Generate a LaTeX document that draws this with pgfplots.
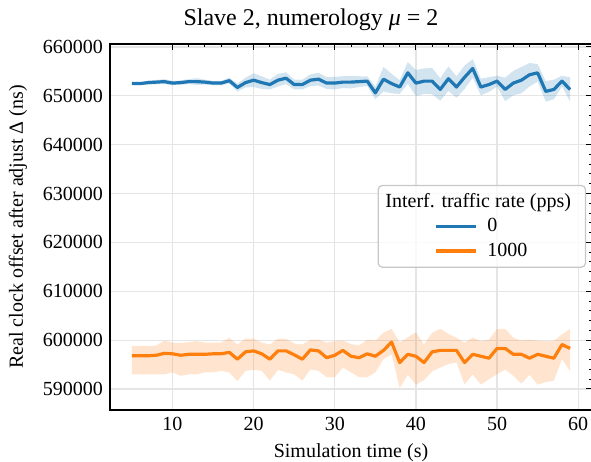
\documentclass[border=0pt]{standalone}
\usepackage{fontspec}
\setmainfont{Liberation Serif}
\usepackage{pgfplots}
\usepackage{pgfplotstable}
\pgfplotsset{compat=1.18}
\usepgfplotslibrary{fillbetween}
\definecolor{tabblue}{HTML}{1F77B4}
\definecolor{taborange}{HTML}{FF7F0E}

% rate 0 pps: mean and band edges
\pgfplotstableread{
t mean hi lo
5 652500 652700 652300
6 652500 652750 652250
7 652700 653100 652300
8 652800 653250 652350
9 652900 653400 652400
10 652600 653050 652150
11 652700 653150 652250
12 652900 653400 652400
13 652900 653600 652200
14 652800 653300 652300
15 652600 653050 652150
16 652600 653050 652150
17 653100 653700 652500
18 651700 652500 650900
19 652700 653700 651700
20 653200 654600 651800
21 652700 654000 651400
22 652300 653300 651300
23 653200 654500 651900
24 653600 654800 652400
25 652300 653300 651300
26 652300 653300 651300
27 653200 654400 652000
28 653400 654700 652100
29 652600 653800 651400
30 652600 653900 651300
31 652800 654000 651600
32 652800 654100 651500
33 652900 654000 651800
34 653000 654000 652000
35 650600 651900 649300
36 653400 655900 650900
37 652500 654500 650500
38 651800 653200 650400
39 654700 656900 652500
40 652600 655300 649900
41 653000 655600 650400
42 653000 655700 650300
43 651300 653600 649000
44 653500 656000 651000
45 651800 654000 649600
46 653800 656200 651400
47 655600 657500 653700
48 651800 653500 650100
49 652300 653800 650800
50 653000 654100 651900
51 651300 653700 648900
52 652600 655100 650100
53 653200 655900 650500
54 654300 656700 651900
55 654700 656500 652900
56 650900 653000 648800
57 651300 653300 649300
58 653000 654100 651900
59 651300 653800 648800
}\rateA

% rate 1000 pps
\pgfplotstableread{
t mean hi lo
5 596800 598800 593000
6 596800 598800 593000
7 596800 598800 593000
8 596900 598900 593000
9 597300 599900 593000
10 597200 599500 593400
11 596900 599400 592700
12 597100 599600 593000
13 597100 599800 593000
14 597100 599500 593400
15 597200 599500 593400
16 597200 599500 593700
17 597500 600500 593400
18 596100 599100 591600
19 597600 600300 593700
20 597800 600300 593900
21 597200 599500 593700
22 596100 599100 591700
23 597800 600300 593900
24 597800 600300 593400
25 597000 599300 593000
26 596100 599100 591700
27 598000 600100 594000
28 597800 600100 593700
29 596400 599500 592400
30 596900 599800 592400
31 597900 599900 594400
32 596700 599200 593400
33 596400 598900 592400
34 597200 600100 592400
35 596700 599900 593400
36 597900 601500 596100
37 599600 602300 597100
38 595400 599500 590200
39 597100 600600 592900
40 596700 601600 590900
41 595400 599100 591800
42 597600 601500 593600
43 597900 602300 594400
44 597900 601300 595100
45 597900 600500 595400
46 595400 599500 590900
47 597100 600500 593000
48 596700 599800 590900
49 596300 600100 592000
50 598300 602300 593000
51 598300 602300 594000
52 597100 600500 592700
53 597100 599900 591100
54 596300 600100 592900
55 597100 599900 590900
56 596700 599800 591400
57 596300 599800 591700
58 599100 601200 596100
59 598300 602300 593600
}\rateB

\begin{document}
\begin{tikzpicture}
\begin{axis}[
  scale only axis, width=241pt, height=183pt,
  xmin=2.3, xmax=61.7, ymin=585700, ymax=660600,
  xtick={10,20,...,60}, minor x tick num=4,
  ytick={590000,600000,...,660000}, minor y tick num=4,
  scaled y ticks=false,
  xtick pos=right, xticklabel pos=left,
  ytick pos=right, yticklabel pos=left,
  tick align=inside,
  major tick length=3pt, minor tick length=1.6pt,
  every tick/.append style={black, line width=0.5pt},
  grid=major, major grid style={color=black!10, line width=0.6pt},
  axis line style={line width=0.7pt},
  /pgf/number format/fixed,
  /pgf/number format/set thousands separator={},
  /pgf/number format/assume math mode=true,
  tick label style={font=\fontsize{10}{12}\selectfont},
  label style={font=\fontsize{10}{12}\selectfont},
  xlabel={Simulation time (s)},
  xlabel style={at={(axis description cs:0.5,0)}, anchor=base, yshift=-23.5pt},
  ylabel={Real clock offset after adjust Δ (ns)},
  ylabel style={at={(axis description cs:-0.191,0.5)}, anchor=center},
  title={Slave 2, numerology \textit{μ} = 2},
  title style={font=\fontsize{12}{14}\selectfont, at={(axis description cs:0.417,1)}, anchor=base, yshift=3.5pt},
  legend style={at={(rel axis cs:0.9876,0.615)}, anchor=north east,
    draw=black!22, line width=0.6pt, rounded corners=2pt, fill=white, fill opacity=0.8, text opacity=1,
    font=\fontsize{10}{12}\selectfont, row sep=0pt},
  legend cell align=left,
  legend image code/.code={\path (-25pt,0pt) (23pt,0pt); \draw[#1] (0pt,0pt) -- (20pt,0pt);},
]
\addlegendimage{empty legend}
\addlegendentry{\hspace*{-51pt}Interf. traffic rate (pps)}

\addplot[draw=none, name path=ahi, forget plot] table[x=t, y=hi] {\rateA};
\addplot[draw=none, name path=alo, forget plot] table[x=t, y=lo] {\rateA};
\addplot[fill=tabblue, fill opacity=0.2, draw=none, forget plot] fill between[of=ahi and alo];
\addplot[draw=none, name path=bhi, forget plot] table[x=t, y=hi] {\rateB};
\addplot[draw=none, name path=blo, forget plot] table[x=t, y=lo] {\rateB};
\addplot[fill=taborange, fill opacity=0.2, draw=none, forget plot] fill between[of=bhi and blo];

\addplot[tabblue, line width=1.6pt, line join=round] table[x=t, y=mean] {\rateA};
\addlegendentry{\makebox[44pt][l]{0}}
\addplot[taborange, line width=1.6pt, line join=round] table[x=t, y=mean] {\rateB};
\addlegendentry{\makebox[44pt][l]{1000}}
\end{axis}
\pgfresetboundingbox
\path (-55pt,-26pt) rectangle (240.5pt,205pt);
\end{tikzpicture}
\end{document}
